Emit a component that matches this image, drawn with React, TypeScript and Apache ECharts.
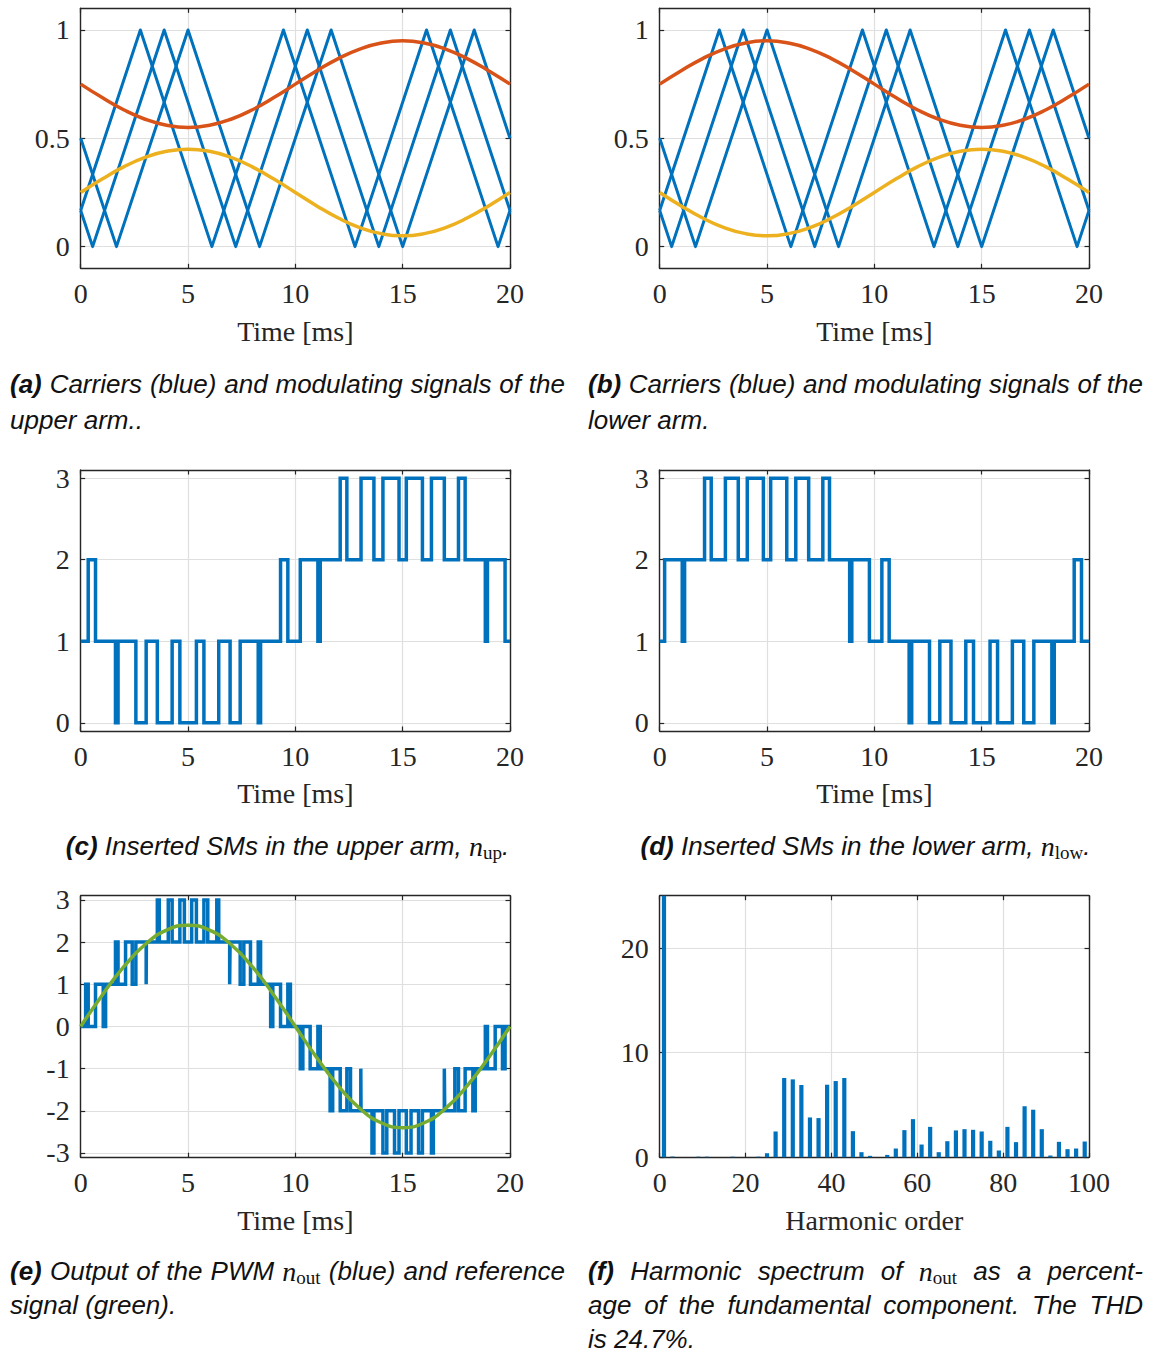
import React, { useEffect, useRef } from "react";
import * as echarts from "echarts";

// ---------- data ----------
// Sample times for the smooth modulating / reference signals [ms]
const T_MS = [0, 1, 2, 3, 4, 5, 6, 7, 8, 9, 10, 11, 12, 13, 14, 15, 16, 17, 18, 19, 20];

// Upper arm modulating signals
const UP_HI = [0.75, 0.688, 0.632, 0.588, 0.56, 0.55, 0.56, 0.588, 0.632, 0.688, 0.75, 0.812, 0.868, 0.912, 0.94, 0.95, 0.94, 0.912, 0.868, 0.812, 0.75];
const UP_LO = [0.25, 0.312, 0.368, 0.412, 0.44, 0.45, 0.44, 0.412, 0.368, 0.312, 0.25, 0.188, 0.132, 0.088, 0.06, 0.05, 0.06, 0.088, 0.132, 0.188, 0.25];
// Lower arm modulating signals
const LOW_HI = [0.75, 0.812, 0.868, 0.912, 0.94, 0.95, 0.94, 0.912, 0.868, 0.812, 0.75, 0.688, 0.632, 0.588, 0.56, 0.55, 0.56, 0.588, 0.632, 0.688, 0.75];
const LOW_LO = [0.25, 0.188, 0.132, 0.088, 0.06, 0.05, 0.06, 0.088, 0.132, 0.188, 0.25, 0.312, 0.368, 0.412, 0.44, 0.45, 0.44, 0.412, 0.368, 0.312, 0.25];

// Triangular carriers: vertex times [ms] and values
const C1_T = [0, 1.667, 5, 8.333, 11.667, 15, 18.333, 20];
const C1_V = [0.5, 0, 1, 0, 1, 0, 1, 0.5];
const C2_T = [0, 0.556, 3.889, 7.222, 10.556, 13.889, 17.222, 20];
const C2_V = [0.167, 0, 1, 0, 1, 0, 1, 0.167];
const C3_T = [0, 2.778, 6.111, 9.444, 12.778, 16.111, 19.444, 20];
const C3_V = [0.167, 1, 0, 1, 0, 1, 0, 0.167];

// Inserted SMs, upper arm: switching instants [ms] and new level
const NUP_T = [0, 0.35, 0.69, 1.62, 1.74, 2.57, 3.05, 3.57, 4.26, 4.62, 5.39, 5.74, 6.43, 6.96, 7.43, 8.27, 8.38, 9.31, 9.65, 10.23, 11.05, 11.16, 12.09, 12.4, 13.06, 13.66, 14.08, 14.83, 15.17, 15.92, 16.34, 16.94, 17.6, 17.91, 18.85, 18.95, 19.77, 20];
const NUP_V = [1, 2, 1, 0, 1, 0, 1, 0, 1, 0, 1, 0, 1, 0, 1, 0, 1, 2, 1, 2, 1, 2, 3, 2, 3, 2, 3, 2, 3, 2, 3, 2, 3, 2, 1, 2, 1, 1];

// Inserted SMs, lower arm
const NLOW_T = [0, 0.23, 1.05, 1.16, 2.09, 2.4, 3.06, 3.66, 4.08, 4.83, 5.17, 5.92, 6.34, 6.94, 7.6, 7.91, 8.85, 8.95, 9.77, 10.35, 10.69, 11.62, 11.74, 12.57, 13.05, 13.57, 14.26, 14.62, 15.39, 15.74, 16.43, 16.96, 17.43, 18.27, 18.38, 19.31, 19.65, 20];
const NLOW_V = [1, 2, 1, 2, 3, 2, 3, 2, 3, 2, 3, 2, 3, 2, 3, 2, 1, 2, 1, 2, 1, 0, 1, 0, 1, 0, 1, 0, 1, 0, 1, 0, 1, 0, 1, 2, 1, 1];

// PWM output n_out
const NOUT_T = [0, 0.23, 0.35, 0.69, 1.05, 1.16, 1.62, 1.74, 2.09, 2.4, 2.57, 3.05, 3.06, 3.57, 3.66, 4.08, 4.26, 4.62, 4.83, 5.17, 5.39, 5.74, 5.92, 6.34, 6.43, 6.94, 6.96, 7.43, 7.6, 7.91, 8.27, 8.38, 8.85, 8.95, 9.31, 9.65, 9.77, 10.23, 10.35, 10.69, 11.05, 11.16, 11.62, 11.74, 12.09, 12.4, 12.57, 13.05, 13.06, 13.57, 13.66, 14.08, 14.26, 14.62, 14.83, 15.17, 15.39, 15.74, 15.92, 16.34, 16.43, 16.94, 16.96, 17.43, 17.6, 17.91, 18.27, 18.38, 18.85, 18.95, 19.31, 19.65, 19.77, 20];
const NOUT_V = [0, 1, 0, 1, 0, 1, 2, 1, 2, 1, 2, 1, 2, 3, 2, 3, 2, 3, 2, 3, 2, 3, 2, 3, 2, 1, 2, 1, 2, 1, 2, 1, 0, 1, 0, 1, 0, -1, 0, -1, 0, -1, -2, -1, -2, -1, -2, -1, -2, -3, -2, -3, -2, -3, -2, -3, -2, -3, -2, -3, -2, -1, -2, -1, -2, -1, -2, -1, 0, -1, 0, -1, 0, 0];

// Reference signal
const REF = [0, 0.742, 1.411, 1.942, 2.283, 2.4, 2.283, 1.942, 1.411, 0.742, 0, -0.742, -1.411, -1.942, -2.283, -2.4, -2.283, -1.942, -1.411, -0.742, 0];

// Harmonic spectrum of n_out [% of fundamental]
const H_ORDER = [1, 3, 9, 11, 17, 23, 25, 27, 29, 31, 33, 35, 37, 39, 41, 43, 45, 47, 49, 53, 55, 57, 59, 61, 63, 65, 67, 69, 71, 73, 75, 77, 79, 81, 83, 85, 87, 89, 91, 93, 95, 97, 99];
const H_PCT = [100, 0.06, 0.05, 0.05, 0.05, 0.05, 0.38, 2.46, 7.57, 7.44, 6.9, 3.8, 3.74, 6.93, 7.28, 7.57, 2.49, 0.48, 0.13, 0.22, 0.83, 2.59, 3.64, 1.21, 2.9, 0.48, 1.53, 2.56, 2.68, 2.62, 2.46, 1.57, 0.64, 2.9, 1.44, 4.86, 4.54, 2.68, 0.16, 1.47, 0.77, 0.83, 1.5];

// Tick values
const TIME_TICK_STEP = 5;
const Y_TICKS_CARRIER = [0, 0.5, 1];
const Y_TICKS_SM = [0, 1, 2, 3];
const Y_TICKS_OUT = [-3, -2, -1, 0, 1, 2, 3];
const Y_TICKS_SPEC = [0, 10, 20];
const H_TICK_STEP = 20;

// Captions
const CAPTIONS: { lines: string[]; x0: number; ys: number[]; mode: ("justify" | "left" | "center")[] }[] = [
  { lines: ["**(a)** Carriers (blue) and modulating signals of the", "upper arm.."], x0: 10, ys: [384, 420], mode: ["justify", "left"] },
  { lines: ["**(b)** Carriers (blue) and modulating signals of the", "lower arm."], x0: 588, ys: [384, 420], mode: ["justify", "left"] },
  { lines: ["**(c)** Inserted SMs in the upper arm, $n_{up}$."], x0: 10, ys: [846], mode: ["center"] },
  { lines: ["**(d)** Inserted SMs in the lower arm, $n_{low}$."], x0: 588, ys: [846], mode: ["center"] },
  { lines: ["**(e)** Output of the PWM $n_{out}$ (blue) and reference", "signal (green)."], x0: 10, ys: [1271, 1305], mode: ["justify", "left"] },
  { lines: ["**(f)** Harmonic spectrum of $n_{out}$ as a percent-", "age of the fundamental component. The THD", "is 24.7%."], x0: 588, ys: [1271, 1305, 1339], mode: ["justify", "justify", "left"] },
];

// ---------- styling ----------
const BLUE = "#0072BD";
const ORANGE = "#D95319";
const YELLOW = "#EDB120";
const GREEN = "#77AC30";
const AXIS = "#262626";
const GRID = "#dfdfdf";
const SERIF = "Liberation Serif";
const SANS = "Liberation Sans";

const PW = 429.3;
const COL_X = [80.7, 659.7];
const ROW_Y = [8.3, 470, 895.7];
const ROW_H = [260, 261, 261.5];
const TITLE_Y = [331, 793, 1220];
const CAP_W = 555;

const zip = (xs: number[], ys: number[]) => xs.map((x, i) => [x, ys[i]]);

type Kind = "b" | "i" | "m" | "s";
const FONTS: Record<Kind, { fontStyle: string; fontWeight: string; fontSize: number; fontFamily: string; dy: number }> = {
  b: { fontStyle: "italic", fontWeight: "bold", fontSize: 26, fontFamily: SANS, dy: 0 },
  i: { fontStyle: "italic", fontWeight: "normal", fontSize: 26, fontFamily: SANS, dy: 0 },
  m: { fontStyle: "italic", fontWeight: "normal", fontSize: 28, fontFamily: SERIF, dy: 0 },
  s: { fontStyle: "normal", fontWeight: "normal", fontSize: 19, fontFamily: SERIF, dy: 6 },
};

type Piece = { text: string; kind: Kind };

function parseWord(w: string): Piece[] {
  const bold = w.match(/^\*\*(.+)\*\*$/);
  if (bold) return [{ text: bold[1], kind: "b" }];
  const math = w.match(/^\$(\w)_\{(\w+)\}\$(.*)$/);
  if (math) {
    const p: Piece[] = [
      { text: math[1], kind: "m" },
      { text: math[2], kind: "s" },
    ];
    if (math[3]) p.push({ text: math[3], kind: "i" });
    return p;
  }
  return [{ text: w, kind: "i" }];
}

function captionGraphics() {
  const ctx = document.createElement("canvas").getContext("2d")!;
  const measure = (p: Piece) => {
    const f = FONTS[p.kind];
    ctx.font = `${f.fontStyle} ${f.fontWeight} ${f.fontSize}px "${f.fontFamily}"`;
    return ctx.measureText(p.text).width;
  };
  ctx.font = `italic normal 26px "${SANS}"`;
  const space = ctx.measureText(" ").width;
  const out: any[] = [];
  CAPTIONS.forEach((cap) => {
    cap.lines.forEach((line, li) => {
      const words = line.split(" ").map(parseWord);
      const widths = words.map((ps) => ps.reduce((s, p) => s + measure(p), 0));
      const total = widths.reduce((a, b) => a + b, 0);
      const mode = cap.mode[li];
      let gap = space;
      let x = cap.x0;
      if (mode === "justify" && words.length > 1) gap = (CAP_W - total) / (words.length - 1);
      if (mode === "center") x = cap.x0 + (CAP_W - (total + space * (words.length - 1))) / 2;
      words.forEach((ps, wi) => {
        let px = x;
        ps.forEach((p) => {
          const f = FONTS[p.kind];
          out.push({
            type: "text",
            x: px,
            y: cap.ys[li] + f.dy,
            silent: true,
            style: {
              text: p.text,
              fill: "#111",
              fontStyle: f.fontStyle,
              fontWeight: f.fontWeight,
              fontSize: f.fontSize,
              fontFamily: f.fontFamily,
              lineHeight: Math.round(f.fontSize * 0.8),
              align: "left",
              verticalAlign: "middle",
            },
          });
          px += measure(p);
        });
        x += widths[wi] + gap;
      });
    });
  });
  return out;
}

type Panel = {
  col: number;
  row: number;
  x: { min: number; max: number; interval: number };
  y: { min: number; max: number; ticks: number[] };
  title: string;
};

const PANELS: Panel[] = [
  { col: 0, row: 0, x: { min: 0, max: 20, interval: TIME_TICK_STEP }, y: { min: -0.1, max: 1.1, ticks: Y_TICKS_CARRIER }, title: "Time [ms]" },
  { col: 1, row: 0, x: { min: 0, max: 20, interval: TIME_TICK_STEP }, y: { min: -0.1, max: 1.1, ticks: Y_TICKS_CARRIER }, title: "Time [ms]" },
  { col: 0, row: 1, x: { min: 0, max: 20, interval: TIME_TICK_STEP }, y: { min: -0.1, max: 3.1, ticks: Y_TICKS_SM }, title: "Time [ms]" },
  { col: 1, row: 1, x: { min: 0, max: 20, interval: TIME_TICK_STEP }, y: { min: -0.1, max: 3.1, ticks: Y_TICKS_SM }, title: "Time [ms]" },
  { col: 0, row: 2, x: { min: 0, max: 20, interval: TIME_TICK_STEP }, y: { min: -3.1, max: 3.1, ticks: Y_TICKS_OUT }, title: "Time [ms]" },
  { col: 1, row: 2, x: { min: 0, max: 100, interval: H_TICK_STEP }, y: { min: 0, max: 25, ticks: Y_TICKS_SPEC }, title: "Harmonic order" },
];

function buildOption() {
  const grids: any[] = [];
  const xAxes: any[] = [];
  const yAxes: any[] = [];
  const graphics: any[] = [];
  const tick = { show: true, inside: true, length: 4.5, lineStyle: { color: AXIS, width: 1.2 } };
  const axisLine = { show: true, onZero: false, lineStyle: { color: AXIS, width: 1.4 } };
  const label = { color: AXIS, fontFamily: SERIF, fontSize: 28 };
  const split = { show: true, lineStyle: { color: GRID, width: 1.2 } };

  PANELS.forEach((p, gi) => {
    grids.push({
      left: COL_X[p.col],
      top: ROW_Y[p.row],
      width: PW,
      height: ROW_H[p.row],
      containLabel: false,
      outerBoundsMode: "none",
      show: false,
    });
    xAxes.push({
      gridIndex: gi, type: "value", position: "bottom",
      min: p.x.min, max: p.x.max, interval: p.x.interval,
      axisLine, axisTick: tick, axisLabel: { ...label, margin: 11 }, splitLine: split,
    });
    xAxes.push({
      gridIndex: gi, type: "value", position: "top",
      min: p.x.min, max: p.x.max, interval: p.x.interval,
      axisLine, axisTick: tick, axisLabel: { show: false }, splitLine: { show: false },
    });
    yAxes.push({
      gridIndex: gi, type: "value", position: "left",
      min: p.y.min, max: p.y.max,
      axisLine, axisTick: { ...tick, customValues: p.y.ticks },
      axisLabel: { ...label, margin: 11, customValues: p.y.ticks },
      splitLine: split,
    });
    yAxes.push({
      gridIndex: gi, type: "value", position: "right",
      min: p.y.min, max: p.y.max,
      axisLine, axisTick: { ...tick, customValues: p.y.ticks },
      axisLabel: { show: false }, splitLine: { show: false },
    });
    graphics.push({
      type: "text",
      x: COL_X[p.col] + PW / 2,
      y: TITLE_Y[p.row],
      silent: true,
      style: { text: p.title, fill: AXIS, fontFamily: SERIF, fontSize: 28, align: "center", verticalAlign: "middle" },
    });
  });

  const line = (gi: number, data: number[][], color: string, width: number, extra: any = {}) => ({
    type: "line",
    xAxisIndex: 2 * gi,
    yAxisIndex: 2 * gi,
    data,
    symbol: "none",
    showSymbol: false,
    silent: true,
    clip: true,
    lineStyle: { color, width, join: "round" },
    ...extra,
  });

  const series: any[] = [];
  // (a) upper arm carriers + modulating signals, (b) lower arm
  [0, 1].forEach((gi) => {
    series.push(line(gi, zip(C1_T, C1_V), BLUE, 3));
    series.push(line(gi, zip(C2_T, C2_V), BLUE, 3));
    series.push(line(gi, zip(C3_T, C3_V), BLUE, 3));
  });
  series.push(line(0, zip(T_MS, UP_HI), ORANGE, 3.5, { smooth: true }));
  series.push(line(0, zip(T_MS, UP_LO), YELLOW, 3.5, { smooth: true }));
  series.push(line(1, zip(T_MS, LOW_HI), ORANGE, 3.5, { smooth: true }));
  series.push(line(1, zip(T_MS, LOW_LO), YELLOW, 3.5, { smooth: true }));
  // (c), (d) inserted SMs
  series.push(line(2, zip(NUP_T, NUP_V), BLUE, 3.5, { step: "end", lineStyle: { color: BLUE, width: 3.5, join: "miter" } }));
  series.push(line(3, zip(NLOW_T, NLOW_V), BLUE, 3.5, { step: "end", lineStyle: { color: BLUE, width: 3.5, join: "miter" } }));
  // (e) output and reference
  series.push(line(4, zip(NOUT_T, NOUT_V), BLUE, 3.5, { step: "end", lineStyle: { color: BLUE, width: 3.5, join: "miter" } }));
  series.push(line(4, zip(T_MS, REF), GREEN, 3.5, { smooth: true }));
  // (f) harmonic spectrum
  series.push({
    type: "bar",
    xAxisIndex: 10,
    yAxisIndex: 10,
    data: zip(H_ORDER, H_PCT),
    barWidth: 4.2,
    clip: true,
    silent: true,
    itemStyle: { color: BLUE },
  });

  return {
    animation: false,
    backgroundColor: "#ffffff",
    grid: grids,
    xAxis: xAxes,
    yAxis: yAxes,
    series,
    graphic: [...graphics, ...captionGraphics()],
  };
}

export default function App() {
  const ref = useRef<HTMLDivElement>(null);
  useEffect(() => {
    const el = ref.current;
    if (!el) return;
    const chart = echarts.init(el, undefined, { renderer: "svg" });
    chart.setOption(buildOption() as any);
    return () => chart.dispose();
  }, []);
  return (
    <div
      ref={ref}
      style={{ position: "absolute", left: 0, top: 0, width: 1156, height: 1355, background: "#fff" }}
    />
  );
}
